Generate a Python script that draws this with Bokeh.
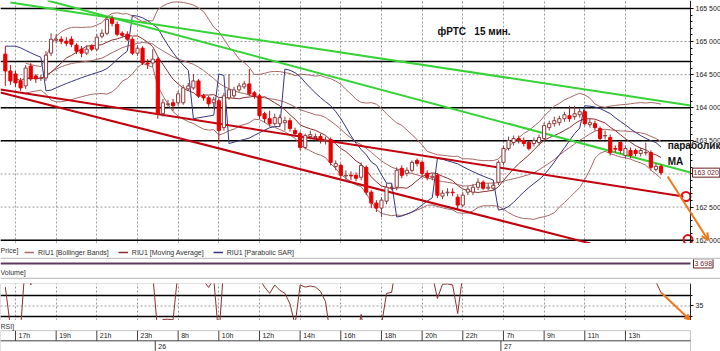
import numpy as np
import pandas as pd
from bokeh.plotting import figure
from bokeh.layouts import column
from bokeh.models import (Range1d, FixedTicker, Label, Legend, LegendItem, Arrow,
                          OpenHead, CustomJSTickFormatter, ColumnDataSource, BoxAnnotation)
from bokeh.embed import file_html
from bokeh.resources import INLINE
from bokeh.core.properties import value

# ---------------- data (RIU1, 15 min candles, index 0 = 17h bar) ----------------
first_bar = -2
opens = [164810, 164555, 164510, 164405, 164330, 164630, 164480, 164440, 164450, 164825,
         165020, 165035, 165005, 165035, 164945, 164885, 164825, 164930, 164885, 165080,
         165125, 165350, 165260, 165125, 165110, 165035, 164825, 164900, 164675, 164675,
         164735, 163910, 164050, 164075, 164075, 164075, 164285, 164300, 164405, 164180,
         164150, 164075, 164105, 163700, 164150, 164180, 164270, 164315, 164360, 164225,
         164180, 163910, 163835, 163760, 163760, 163775, 163805, 163655, 163610, 163400,
         163565, 163550, 163565, 163490, 163520, 163115, 163130, 162970, 162980, 162980,
         162950, 163100, 162725, 162560, 162485, 162590, 162795, 162800, 163085, 163010,
         163055, 163205, 163175, 163010, 162950, 162980, 162665, 162715, 162725, 162650,
         162530, 162725, 162725, 162800, 162875, 162785, 162785, 162875, 163175, 163385,
         163475, 163535, 163505, 163475, 163460, 163475, 163535, 163700, 163760, 163775,
         163835, 163880, 163865, 163895, 163940, 163745, 163760, 163685, 163575, 163550,
         163385, 163475, 163280, 163355, 163355, 163310, 163320, 163325, 163070, 163115]
closes = [164555, 164405, 164375, 164300, 164600, 164435, 164435, 164450, 164795, 165035,
          165035, 165005, 164975, 164960, 164855, 164825, 164885, 164885, 165065, 165125,
          165335, 165275, 165110, 165095, 165035, 164825, 164900, 164675, 164660, 164735,
          163910, 164075, 164060, 164030, 164210, 164300, 164330, 164405, 164180, 164150,
          164060, 164120, 163655, 164180, 164270, 164270, 164330, 164360, 164210, 164180,
          163880, 163835, 163760, 163850, 163850, 163805, 163685, 163610, 163400, 163580,
          163595, 163565, 163505, 163505, 163175, 163160, 162980, 162980, 162970, 162935,
          163130, 162725, 162560, 162485, 162605, 162800, 162800, 163055, 162980, 163055,
          163175, 163160, 163010, 162950, 162965, 162680, 162710, 162725, 162715, 162530,
          162680, 162770, 162800, 162875, 162785, 162800, 162830, 163175, 163385, 163505,
          163535, 163505, 163460, 163385, 163505, 163550, 163730, 163760, 163805, 163835,
          163895, 163835, 163910, 163940, 163760, 163775, 163700, 163535, 163580, 163325,
          163375, 163355, 163385, 163280, 163310, 163355, 163325, 163100, 163115, 163020]
highs = [164930, 164645, 164555, 164450, 164645, 164675, 164510, 164495, 164855, 165125,
         165110, 165080, 165065, 165080, 164975, 164930, 164945, 164960, 165110, 165185,
         165380, 165395, 165305, 165155, 165155, 165065, 164945, 164930, 164735, 164885,
         164765, 164135, 164120, 164135, 164255, 164345, 164375, 164510, 164435, 164210,
         164180, 164165, 164135, 164225, 164510, 164315, 164375, 164405, 164585, 164255,
         164210, 163940, 163955, 163910, 163895, 163865, 163850, 163700, 163640, 163610,
         163655, 163610, 163610, 163565, 163550, 163205, 163160, 163055, 163040, 163025,
         163175, 163130, 162755, 162605, 162650, 162860, 162860, 163100, 163130, 163100,
         163205, 163235, 163205, 163055, 163010, 163010, 162755, 162785, 162785, 162695,
         162725, 162815, 162845, 162935, 162905, 162860, 162875, 163205, 163430, 163565,
         163580, 163580, 163550, 163505, 163550, 163595, 163775, 163805, 163865, 163880,
         163940, 164030, 164030, 163985, 163970, 163835, 163805, 163715, 163655, 163595,
         163430, 163505, 163430, 163400, 163385, 163400, 163475, 163355, 163160, 163145]
lows = [164330, 164345, 164315, 164255, 164285, 164405, 164375, 164405, 164405, 164780,
        164975, 164960, 164930, 164915, 164810, 164765, 164795, 164855, 164855, 165050,
        165095, 165230, 165080, 165065, 165005, 164795, 164780, 164645, 164585, 164615,
        163835, 163865, 164015, 163955, 164030, 164045, 164255, 164270, 164150, 164105,
        164015, 163985, 163460, 163655, 164120, 164150, 164240, 164285, 164180, 164135,
        163835, 163775, 163715, 163730, 163715, 163655, 163640, 163565, 163355, 163370,
        163520, 163505, 163460, 163445, 163130, 163055, 162935, 162875, 162905, 162890,
        162905, 162680, 162485, 162425, 162350, 162545, 162755, 162755, 162935, 162965,
        163025, 163115, 162965, 162905, 162905, 162635, 162620, 162665, 162665, 162455,
        162500, 162680, 162680, 162755, 162755, 162755, 162755, 162830, 163130, 163355,
        163430, 163460, 163415, 163355, 163415, 163430, 163505, 163655, 163715, 163730,
        163790, 163790, 163820, 163850, 163730, 163700, 163655, 163490, 163520, 163280,
        163325, 163310, 163235, 163235, 163265, 163265, 163280, 163055, 163040, 162980]

# RSI as read from the (zoomed-in, 28..46) RSI panel; values off the panel are estimates
rsi_values = [44, 25, 22, 24, 58, 45, 52, 55, 62, 68,
              66, 63, 60, 59, 55, 54, 56, 56, 62, 64,
              70, 66, 58, 57, 55, 50, 52, 49, 48, 50,
              22, 28.6, 28.7, 28.4, 52, 56, 57, 60, 50, 47,
              43.8, 48, 20, 55, 58, 58, 60, 61, 55, 53,
              48, 44, 41, 45, 42.5, 41, 36, 26, 45, 44,
              44.5, 44, 42, 37, 20, 22, 18, 19, 19, 18,
              31, 17, 14, 13, 26, 41, 41.5, 56, 52, 55,
              60, 58, 52, 50, 50, 38.6, 45.3, 45.5, 45, 31.4,
              50, 54, 56, 60, 55, 56, 57, 68, 74, 77,
              77, 74, 70, 65, 68, 70, 75, 76, 77, 78,
              80, 74, 76, 77, 62, 62, 58, 52, 54, 50,
              51, 50, 51, 48, 49, 51, 50, 47, 46.5, 41.4]

time_ticks = [0, 8, 16, 24, 32, 40, 48, 56, 64, 72, 80, 88, 96, 104, 112, 120]
time_labels = ["17h", "19h", "21h", "23h", "8h", "10h", "12h", "14h", "16h",
               "18h", "20h", "22h", "7h", "9h", "11h", "13h"]
day_starts = [27.5, 95.5]
day_labels = ["26", "27"]
price_ticks = [162000, 162500, 163000, 163500, 164000, 164500, 165000, 165500]
level_lines = [165500, 164700, 164000, 163500, 162000]
rsi_levels = [30, 40]
rsi_mid = 35
last_price = 163020
last_volume = 3698

# hand drawn trend lines (two anchor points each: bar index, price)
green_a_x, green_a_y = [-1.0, 132.8], [165590, 164035]
green_b_x, green_b_y = [6.3, 132.8], [165620, 163023]
red_c_x, red_c_y = [-2.95, 131.4], [164276, 162660]
red_d_x, red_d_y = [-2.95, 113.1], [164231, 161951]
circle_x, circle_y = [131.9, 132.3], [162660, 162010]
forecast_x, forecast_y = [128.3, 136.3], [162962, 162000]
rsi_fc_x, rsi_fc_y = [127.0, 132.6], [41.4, 28.6]

# ---------------- indicators ----------------
idx = np.arange(first_bar, first_bar + len(closes))
o = np.array(opens, float); c = np.array(closes, float)
h = np.array(highs, float); l = np.array(lows, float)
cs = pd.Series(c)
bb_mid = cs.rolling(20, min_periods=5).mean()
bb_sd = cs.rolling(20, min_periods=5).std(ddof=0)
bb_up = bb_mid + 2 * bb_sd
bb_lo = bb_mid - 2 * bb_sd
ma = cs.rolling(9, min_periods=3).mean()


def psar(hh, ll, step=0.02, amax=0.2):
    n = len(hh)
    out = np.zeros(n)
    up = False
    af = step
    ep = ll[0]
    out[0] = hh[0]
    for i in range(1, n):
        s = out[i - 1] + af * (ep - out[i - 1])
        if up:
            s = min(s, ll[i - 1], ll[max(i - 2, 0)])
            if ll[i] < s:
                up, s, ep, af = False, ep, ll[i], step
            elif hh[i] > ep:
                ep, af = hh[i], min(af + step, amax)
        else:
            s = max(s, hh[i - 1], hh[max(i - 2, 0)])
            if hh[i] > s:
                up, s, ep, af = True, ep, hh[i], step
            elif ll[i] < ep:
                ep, af = ll[i], min(af + step, amax)
        out[i] = s
    return out


sar = psar(h, l)

# ---------------- styling ----------------
FONT = "Liberation Sans"
GRID = "#9a9a9a"
BB_COL = "#a86868"
MA_COL = "#8b2f2f"
SAR_COL = "#353580"
ORANGE = "#f07818"
SEP = "#c4c4c4"
X0, XAX = -2.95, 132.8          # left frame edge / price-axis position (bar index)

xr = Range1d(X0, 138.7)


def base_fig(height, yr, **kw):
    f = figure(width=720, height=height, x_range=xr, y_range=yr, output_backend="svg",
               toolbar_location=None, x_axis_location=None, min_border_left=0,
               min_border_right=0, **kw)
    f.outline_line_color = None
    f.background_fill_color = "white"
    return f


def style_axis(a):
    a.fixed_location = XAX
    a.major_label_text_font = FONT
    a.major_label_text_font_size = "7px"
    a.major_label_text_color = "#202020"
    a.major_label_standoff = 2
    a.major_tick_out = 3
    a.major_tick_in = 0
    a.minor_tick_out = 2
    a.minor_tick_in = 0
    a.axis_line_color = "#202020"


# ---------------- price panel ----------------
bull = o <= c
src_bull = ColumnDataSource(dict(x=idx[bull], hi=h[bull], lo=l[bull], top=c[bull], bot=o[bull]))
src_bear = ColumnDataSource(dict(x=idx[~bull], hi=h[~bull], lo=l[~bull], top=o[~bull], bot=c[~bull]))

p = base_fig(243, Range1d(161950, 165620), y_axis_location="right",
             min_border_top=0, min_border_bottom=0)
ax = p.yaxis[0]
style_axis(ax)
ax.ticker = FixedTicker(ticks=price_ticks, minor_ticks=list(range(162000, 165600, 100)))
ax.formatter = CustomJSTickFormatter(code="return tick.toString().replace(/\\B(?=(\\d{3})+(?!\\d))/g, ' ');")
p.ygrid.visible = False
p.xgrid.ticker = FixedTicker(ticks=time_ticks)
p.xgrid.grid_line_color = GRID
p.xgrid.grid_line_dash = "2 2"

n_pt = len(price_ticks)
p.segment(x0=[X0] * n_pt, x1=[XAX] * n_pt, y0=price_ticks, y1=price_ticks,
          line_color=GRID, line_dash="2 2", line_width=1)
n_lv = len(level_lines)
p.segment(x0=[X0] * n_lv, x1=[XAX] * n_lv, y0=level_lines, y1=level_lines,
          line_color="black", line_width=1.5)

p.line(idx, bb_up, line_color=BB_COL, line_width=1)
p.line(idx, bb_lo, line_color=BB_COL, line_width=1)
p.line(idx, bb_mid, line_color=BB_COL, line_width=1)
p.line(idx, ma, line_color=MA_COL, line_width=1)
p.line(idx, sar, line_color=SAR_COL, line_width=1)

p.line(green_a_x, green_a_y, line_color="#36d236", line_width=2)
p.line(green_b_x, green_b_y, line_color="#36d236", line_width=2)
p.line(red_c_x, red_c_y, line_color="#c0000c", line_width=2)
p.line(red_d_x, red_d_y, line_color="#c0000c", line_width=2)

p.segment(x0="x", y0="lo", x1="x", y1="hi", source=src_bull, line_color="#8c3c3c", line_width=1)
p.vbar(x="x", width=0.62, top="top", bottom="bot", source=src_bull,
       fill_color="white", line_color="#8c3c3c", line_width=1)
p.segment(x0="x", y0="lo", x1="x", y1="hi", source=src_bear, line_color="#c01010", line_width=1)
p.vbar(x="x", width=0.62, top="top", bottom="bot", source=src_bear,
       fill_color="#e80000", line_color="#e80000", line_width=1)

p.scatter(circle_x, circle_y, marker="circle", size=9, fill_color=None,
          line_color="#e01010", line_width=2)
p.add_layout(Arrow(end=OpenHead(size=7, line_color=ORANGE, line_width=2),
                   x_start=forecast_x[0], y_start=forecast_y[0],
                   x_end=forecast_x[1], y_end=forecast_y[1],
                   line_color=ORANGE, line_width=2))

p.add_layout(Label(x=83.0, y=165152, text="фРТС\u00a0\u00a0\u00a015 мин.", text_font=FONT,
                   text_font_size="10px", text_font_style="bold", text_color="#101010",
                   text_baseline="middle"))
p.add_layout(Label(x=128.3, y=163431, text="параболик", text_font=FONT,
                   text_font_size="10px", text_font_style="bold", text_color="#101010",
                   text_baseline="middle"))
p.add_layout(Label(x=128.3, y=163189, text="МА", text_font=FONT,
                   text_font_size="10px", text_font_style="bold", text_color="#101010",
                   text_baseline="middle"))
p.add_layout(Label(x=XAX, y=last_price, x_offset=2, text=f"{last_price:,}".replace(",", " "),
                   text_font=FONT, text_font_size="7px", text_color="#6a1c1c",
                   text_baseline="middle", border_line_color="#6a1c1c",
                   background_fill_color="white", padding=1))

# ---------------- legend strip ----------------
pl = base_fig(16, Range1d(0, 1), y_axis_location=None, min_border_top=0, min_border_bottom=2)
pl.border_fill_color = SEP
pl.grid.visible = False
lg_bb = pl.line(x=[-20, -19], y=[0.5, 0.5], line_color=BB_COL, line_width=1.5)
lg_ma = pl.line(x=[-20, -19], y=[0.5, 0.5], line_color=MA_COL, line_width=1.5)
lg_sar = pl.line(x=[-20, -19], y=[0.5, 0.5], line_color=SAR_COL, line_width=1.5)
legend = Legend(items=[LegendItem(label="RIU1 [Bollinger Bands]", renderers=[lg_bb]),
                       LegendItem(label="RIU1 [Moving Average]", renderers=[lg_ma]),
                       LegendItem(label="RIU1 [Parabolic SAR]", renderers=[lg_sar])],
                orientation="horizontal", location=(24, 0), margin=0, padding=2,
                spacing=9, glyph_width=10, glyph_height=10, label_height=10,
                label_standoff=4, label_text_font=FONT, label_text_font_size="7px",
                label_text_color="#303030", border_line_color=None,
                background_fill_alpha=0)
pl.add_layout(legend, "center")
pl.add_layout(Label(x=0, y=7, x_units="screen", y_units="screen", text="Price]",
                    text_font=FONT, text_font_size="7px", text_color="#303030",
                    text_baseline="middle"))

# ---------------- volume strip ----------------
pv = base_fig(20, Range1d(198, 4698), y_axis_location=None, min_border_top=0,
              min_border_bottom=2)
pv.border_fill_color = SEP
pv.grid.visible = False
pv.segment(x0=[X0], x1=[XAX], y0=[last_volume], y1=[last_volume],
           line_color="#5a3a5a", line_width=2)
pv.add_layout(Label(x=XAX, y=last_volume, x_offset=3, text=f"{last_volume:,}".replace(",", " "),
                    text_font=FONT, text_font_size="7px", text_color="#6a1c1c",
                    text_baseline="middle", border_line_color="#6a1c1c",
                    background_fill_color="white", padding=1))
pv.add_layout(Label(x=0, y=5, x_units="screen", y_units="screen", text="Volume]",
                    text_font=FONT, text_font_size="7px", text_color="#303030",
                    text_baseline="middle"))

# ---------------- RSI ----------------
pr = base_fig(41, Range1d(28.1, 45.7), y_axis_location="right", min_border_top=4,
              min_border_bottom=0)
pr.border_fill_color = "white"
rax = pr.yaxis[0]
style_axis(rax)
rax.ticker = FixedTicker(ticks=[rsi_mid], minor_ticks=rsi_levels)
pr.ygrid.visible = False
pr.xgrid.ticker = FixedTicker(ticks=time_ticks)
pr.xgrid.grid_line_color = GRID
pr.xgrid.grid_line_dash = "2 2"
pr.segment(x0=[X0], x1=[XAX], y0=[rsi_mid], y1=[rsi_mid], line_color=GRID,
           line_dash="2 2", line_width=1)
pr.segment(x0=[X0] * 2, x1=[XAX] * 2, y0=rsi_levels, y1=rsi_levels,
           line_color="black", line_width=1.5)
pr.line(idx, rsi_values, line_color=MA_COL, line_width=1)
pr.add_layout(BoxAnnotation(left=X0, right=XAX, fill_alpha=0, line_color="#303030",
                            line_width=1))
pr.add_layout(Arrow(end=OpenHead(size=5, line_color=ORANGE, line_width=2),
                    x_start=rsi_fc_x[0], y_start=rsi_fc_y[0],
                    x_end=rsi_fc_x[1], y_end=rsi_fc_y[1],
                    line_color=ORANGE, line_width=2))

# ---------------- time axis ----------------
pt = base_fig(31, Range1d(-0.05, 3), y_axis_location=None, min_border_top=0,
              min_border_bottom=0)
pt.grid.visible = False
pt.add_layout(BoxAnnotation(left=X0, right=XAX, bottom=-0.05, top=2, fill_alpha=0,
                            line_color="#404040", line_width=1))
pt.segment(x0=[X0], x1=[XAX], y0=[1], y1=[1], line_color="#404040", line_width=1)
pt.segment(x0=time_ticks, y0=[1] * len(time_ticks), x1=time_ticks, y1=[2] * len(time_ticks),
           line_color="#404040", line_width=1)
pt.segment(x0=day_starts, y0=[0] * len(day_starts), x1=day_starts, y1=[1] * len(day_starts),
           line_color="#404040", line_width=1)
pt.text(x=time_ticks, y=[1.5] * len(time_ticks), text=time_labels, x_offset=3,
        text_font=value(FONT), text_font_size="7px", text_color="#202020",
        text_align="left", text_baseline="middle")
pt.text(x=day_starts, y=[0.45] * len(day_starts), text=day_labels, x_offset=3,
        text_font=value(FONT), text_font_size="7px", text_color="#202020",
        text_align="left", text_baseline="middle")
pt.add_layout(Label(x=0, y=25, x_units="screen", y_units="screen", text="RSI]",
                    text_font=FONT, text_font_size="7px", text_color="#303030",
                    text_baseline="middle"))

layout = column(p, pl, pv, pr, pt, spacing=0)
open("out.html", "w").write(file_html(layout, INLINE))
